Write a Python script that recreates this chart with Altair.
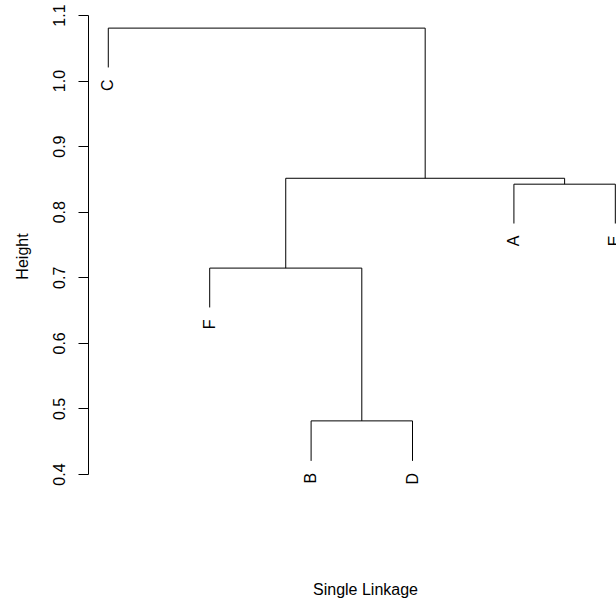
import altair as alt
import pandas as pd

# Leaves in dendrogram order
leaf_labels = ["C", "F", "B", "D", "A", "E"]
leaf_pos = [1, 2, 3, 4, 5, 6]
leaf_ends = [1.020, 0.654, 0.420, 0.420, 0.782, 0.782]

# Merges (R hclust style): negative = leaf (1-based), positive = earlier merge step
merge_left = [-3, -2, -5, 2, -1]
merge_right = [-4, 1, -6, 3, 4]
merge_height = [0.481, 0.714, 0.842, 0.851, 1.080]

y_ticks = [0.4, 0.5, 0.6, 0.7, 0.8, 0.9, 1.0, 1.1]

node_x = {}
node_top = {}
for i, (p, h) in enumerate(zip(leaf_pos, leaf_ends)):
    node_x[-(i + 1)] = p
    node_top[-(i + 1)] = h

segs = []
for i, (l, r, h) in enumerate(zip(merge_left, merge_right, merge_height)):
    xl, xr = node_x[l], node_x[r]
    segs.append({"x": xl, "x2": xr, "y": h, "y2": h})
    segs.append({"x": xl, "x2": xl, "y": node_top[l], "y2": h})
    segs.append({"x": xr, "x2": xr, "y": node_top[r], "y2": h})
    node_x[i + 1] = (xl + xr) / 2
    node_top[i + 1] = h

seg_df = pd.DataFrame(segs)
leaf_df = pd.DataFrame({"pos": leaf_pos, "end": leaf_ends, "label": leaf_labels})

FONT = "Liberation Sans"
xscale = alt.Scale(domain=[0.8, 6.0067], nice=False, zero=False)
yscale = alt.Scale(domain=[0.4, 1.1], nice=False, zero=False)

rules = alt.Chart(seg_df).mark_rule(color="black", strokeWidth=1).encode(
    x=alt.X("x:Q", scale=xscale,
            axis=alt.Axis(title="Single Linkage", domain=False, ticks=False, labels=False,
                          grid=False, titleX=277, titleY=120, titleAlign="center",
                          titleBaseline="alphabetic", titleFont=FONT, titleFontSize=16,
                          titleFontWeight="normal", titleColor="black")),
    x2="x2:Q",
    y=alt.Y("y:Q", scale=yscale,
            axis=alt.Axis(title="Height", values=y_ticks, format=".1f", grid=False,
                          domainColor="black", domainWidth=1, tickColor="black",
                          tickWidth=1, tickSize=10, labelAngle=270, labelAlign="center",
                          labelBaseline="bottom", labelPadding=11, labelFont=FONT,
                          labelFontSize=16, labelColor="black", titleFont=FONT,
                          titleFontSize=16, titleFontWeight="normal", titleColor="black",
                          titleAngle=270, titleX=-66, titleY=241, titleAlign="center",
                          titleBaseline="middle", labelFlush=False, labelOverlap=False)),
    y2="y2:Q",
)

labels = alt.Chart(leaf_df).mark_text(
    angle=270, align="right", baseline="middle", dx=-12,
    font=FONT, fontSize=16, color="black"
).encode(
    x=alt.X("pos:Q", scale=xscale),
    y=alt.Y("end:Q", scale=yscale),
    text="label:N",
)

chart = (rules + labels).properties(
    width=528, height=459,
    autosize=alt.AutoSizeParams(type="none"),
    padding={"left": 88, "top": 15, "right": 0, "bottom": 127},
    background="white",
).configure_view(stroke=None)

chart.save("out.html", embed_options={"renderer": "svg", "actions": False})
